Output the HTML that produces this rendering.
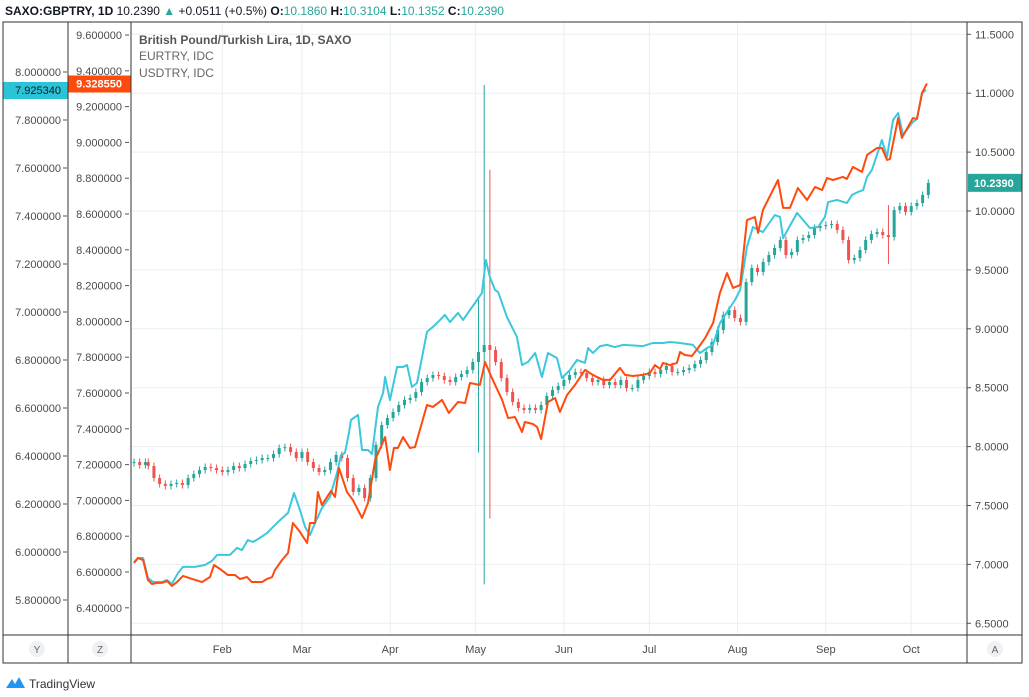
<!DOCTYPE html>
<html><head><meta charset="utf-8"><style>
body{margin:0;background:#fff;width:1029px;height:692px;overflow:hidden;font-family:"Liberation Sans",sans-serif;}
svg text{font-family:"Liberation Sans",sans-serif;}
</style></head><body>
<svg id="c" width="1029" height="692">
<text x="5" y="15" font-size="12" fill="#131722"><tspan font-weight="bold">SAXO:GBPTRY, 1D</tspan> 10.2390 <tspan fill="#26a69a">▲</tspan> +0.0511 (+0.5%) <tspan font-weight="bold">O:</tspan><tspan fill="#26a69a">10.1860</tspan> <tspan font-weight="bold">H:</tspan><tspan fill="#26a69a">10.3104</tspan> <tspan font-weight="bold">L:</tspan><tspan fill="#26a69a">10.1352</tspan> <tspan font-weight="bold">C:</tspan><tspan fill="#26a69a">10.2390</tspan></text>
<g id="grid"></g>
<g id="series"></g>
<g id="axes"></g>
<rect x="3" y="22" width="1019" height="641" fill="none" stroke="#333" stroke-width="1"/>
<line x1="68" y1="22" x2="68" y2="663" stroke="#333"/>
<line x1="131" y1="22" x2="131" y2="663" stroke="#333"/>
<line x1="967" y1="22" x2="967" y2="663" stroke="#333"/>
<line x1="3" y1="635" x2="1022" y2="635" stroke="#333"/>
<text x="139" y="44" font-size="12" font-weight="bold" fill="#555">British Pound/Turkish Lira, 1D, SAXO</text>
<text x="139" y="60" font-size="12" fill="#666">EURTRY, IDC</text>
<text x="139" y="77" font-size="12" fill="#666">USDTRY, IDC</text>
<g id="bottom"></g>
<g><path d="M6 688 L12 679 L15 684 L19 677 L25 688 Z" fill="#2196f3"/><text x="29" y="688" font-size="12" fill="#333">TradingView</text></g>
</svg>
<script>
// GBPTRY candles (day index from Jan 1, close)
const candleDays=[0,2,4,5,7,9,11,13,15,17,19,21,23,25,27,29,31,33,35,37,39,41,43,45,47,49,51,53,55,57,59,61,63,65,67,69,71,73,75,77,79,81,83,85,87,89,91,93,95,97,99,101,103,105,107,109,111,113,115,117,119,121,123,125,127,129,131,133,135,137,139,141,143,145,147,149,151,153,155,157,159,161,163,165,167,169,171,173,175,177,179,181,183,185,187,189,191,193,195,197,199,201,203,205,207,209,211,213,215,217,219,221,223,225,227,229,231,233,235,237,239,241,243,245,247,249,251,253,255,257,259,261,263,265,267,269,271,273,275,277,279];
const candleClose=[7.869,7.844,7.869,7.835,7.733,7.683,7.666,7.683,7.691,7.674,7.733,7.767,7.801,7.827,7.818,7.801,7.784,7.801,7.835,7.818,7.852,7.878,7.886,7.903,7.903,7.937,7.988,7.995,7.954,7.903,7.954,7.869,7.818,7.784,7.801,7.869,7.929,7.903,7.733,7.615,7.649,7.564,7.733,8.014,8.183,8.243,8.294,8.353,8.396,8.413,8.463,8.548,8.582,8.608,8.599,8.565,8.548,8.591,8.616,8.650,8.718,8.803,8.862,8.820,8.718,8.582,8.463,8.379,8.328,8.311,8.328,8.311,8.353,8.430,8.481,8.514,8.565,8.608,8.633,8.625,8.582,8.548,8.565,8.523,8.548,8.523,8.565,8.497,8.497,8.565,8.599,8.633,8.616,8.650,8.684,8.633,8.633,8.650,8.667,8.701,8.735,8.803,8.888,8.990,9.117,9.160,9.092,9.058,9.397,9.516,9.482,9.567,9.626,9.686,9.754,9.626,9.652,9.754,9.771,9.796,9.856,9.873,9.881,9.890,9.839,9.754,9.584,9.601,9.669,9.754,9.805,9.822,9.796,9.779,10.008,10.042,9.992,10.042,10.068,10.136,10.239];
const candleFirstOpen=7.86;
const spikeDays=[121,123,125,265];
const spikeHigh=[9.25,11.07,10.35,10.05];
const spikeLow=[7.95,6.83,7.39,9.55];
// EURTRY line
const eurDays=[0,1.4,3.2,4.9,6.3,8.1,9.8,11.6,13.3,15.1,17.2,20.4,23.9,26.7,28.1,30.2,33,35.5,37.2,39.7,41.4,45,46.7,48.5,49.5,52,54.1,55.8,58.3,60.8,61.8,63.6,64.6,66,69.2,70.6,72,74.8,76.9,80.1,82.2,84.7,88.2,89.9,91.3,92.7,94.5,96.9,98.7,102.9,105,108.2,110.6,113.8,116.3,118,121.5,123.3,125.7,129.3,131.4,133.8,136.3,137.3,140.1,141.6,143,145.4,147.9,149.6,152.1,154.9,158.4,161.2,164.7,167.2,170.7,172.5,175.3,178.8,181.2,183,184.8,185.8,188.3,190.7,191.8,193.5,196,198.1,200.6,203.4,205.8,208.3,210.4,212.9,215.3,218.1,219.2,220.9,226.2,228,230.4,233.2,236.4,239.2,241.7,243.4,245.5,249,250.4,252.5,255.7,257.5,261,262.7,264.5,265.5,268.4,269.7,273.6,275,276.8,278.5];
const eurValues=[6.650,6.678,6.667,6.555,6.533,6.539,6.539,6.550,6.522,6.544,6.578,6.561,6.544,6.572,6.639,6.617,6.583,6.583,6.561,6.572,6.544,6.544,6.561,6.572,6.611,6.667,6.706,6.874,6.824,6.762,6.874,6.874,7.047,6.974,7.053,7.019,7.181,7.047,7.002,6.902,6.986,7.226,7.354,7.170,7.293,7.293,7.354,7.293,7.298,7.533,7.522,7.561,7.488,7.550,7.544,7.656,7.645,7.773,7.684,7.561,7.460,7.466,7.382,7.438,7.427,7.410,7.343,7.550,7.572,7.494,7.589,7.645,7.729,7.701,7.673,7.673,7.740,7.701,7.695,7.701,7.712,7.756,7.734,7.768,7.756,7.768,7.829,7.812,7.807,7.851,7.907,7.991,8.159,8.270,8.187,8.203,8.566,8.583,8.494,8.622,8.790,8.634,8.634,8.745,8.678,8.751,8.734,8.801,8.790,8.807,8.796,8.863,8.835,8.930,8.969,8.969,8.902,8.907,9.136,9.025,9.136,9.131,9.276,9.329];
// USDTRY line
const usdDays=[0,1.4,3.2,4.9,6.7,9.8,11.6,13.3,15.5,17.2,21.4,24.9,27.4,29.2,33.7,36.2,37.9,40,41.8,43.6,46.7,48.8,51.3,54.1,56.2,58.3,60.1,61.8,63.6,66,68.8,71.3,72.7,74.1,75.5,76.2,78.7,80.1,82.2,83.6,85.7,87.5,88.2,89.9,92.4,94.5,95.9,97.6,99.4,101.2,102.9,105,107.5,109.2,111,113.8,115.6,118,120.5,122.2,123.6,125,126.8,127.9,131,134.5,136.3,138.4,140.9,141.6,143.3,145.4,148.6,150.3,153.1,155.6,158.4,159.5,161.2,163.7,166.1,168.9,171.8,178.8,182.3,185.8,188.3,191.8,196.3,198.8,201.3,203.4,205.8,208.3,211.1,212.9,215.3,217.4,219.2,220.9,225.1,226.9,228,232.9,237.4,240.3,242.7,243.8,246.9,250.4,252.2,254.3,256.1,257.5,259.2,262.7,264.5,266.6,268.4,270.1,273.6,275,276.8,278.2];
const usdValues=[5.958,5.975,5.975,5.892,5.875,5.875,5.883,5.867,5.913,5.938,5.938,5.946,5.963,5.988,5.988,6.017,6.008,6.05,6.042,6.054,6.079,6.104,6.133,6.163,6.246,6.175,6.104,6.071,6.121,6.183,6.229,6.329,6.404,6.413,6.496,6.55,6.571,6.425,6.425,6.408,6.604,6.663,6.729,6.633,6.771,6.771,6.779,6.688,6.704,6.813,6.917,6.938,6.967,6.988,6.958,6.996,6.967,7.008,7.05,7.079,7.217,7.146,7.092,7.083,6.979,6.896,6.779,6.792,6.829,6.8,6.729,6.829,6.808,6.725,6.758,6.8,6.788,6.85,6.829,6.858,6.863,6.854,6.863,6.858,6.871,6.871,6.875,6.871,6.863,6.829,6.85,6.863,6.954,7.0,7.05,7.092,7.271,7.354,7.342,7.333,7.404,7.396,7.308,7.413,7.35,7.354,7.396,7.458,7.467,7.454,7.488,7.5,7.508,7.563,7.592,7.717,7.646,7.8,7.829,7.738,7.792,7.804,7.913,7.925];
const monthLabels=["Feb","Mar","Apr","May","Jun","Jul","Aug","Sep","Oct"];
const monthDays=[31,59,90,120,151,181,212,243,273];
const rightTicks=[6.5,7.0,7.5,8.0,8.5,9.0,9.5,10.0,10.5,11.0,11.5];
const usdTicks=[5.8,6.0,6.2,6.4,6.6,6.8,7.0,7.2,7.4,7.6,7.8,8.0];
const eurTicks=[6.4,6.6,6.8,7.0,7.2,7.4,7.6,7.8,8.0,8.2,8.4,8.6,8.8,9.0,9.2,9.4,9.6];

const NS="http://www.w3.org/2000/svg";
const X=d=>134+d*2.847;
const YR=v=>211-(v-10)*117.8;
const YU=v=>72+(8-v)*240;
const YE=v=>35+(9.6-v)*179;
function mk(p,tag,a,txt){const e=document.createElementNS(NS,tag);for(const k in a)e.setAttribute(k,a[k]);if(txt!==undefined)e.textContent=txt;p.appendChild(e);return e;}
const grid=document.getElementById('grid'),ser=document.getElementById('series'),ax=document.getElementById('axes'),bot=document.getElementById('bottom');
rightTicks.forEach(v=>{const y=YR(v);const l=mk(grid,'line',{x1:131,x2:967,y1:y,y2:y,stroke:'#e9eff3'});


mk(ax,'line',{x1:967,x2:971,y1:y,y2:y,stroke:'#555'});
const t=mk(ax,'text',{x:975,y:y+4,'font-size':11,fill:'#4a4a4a'},v.toFixed(4));

});
monthDays.forEach((d,i)=>{const x=X(d);const l=mk(grid,'line',{x1:x,x2:x,y1:22,y2:635,stroke:'#e9eff3'});


const t=mk(bot,'text',{x:x,y:653,'font-size':11,fill:'#4a4a4a','text-anchor':'middle'},monthLabels[i]);

});
usdTicks.forEach(v=>{const y=YU(v);mk(ax,'line',{x1:63,x2:67,y1:y,y2:y,stroke:'#555'});
const t=mk(ax,'text',{x:61,y:y+4,'font-size':11,fill:'#4a4a4a','text-anchor':'end'},v.toFixed(6));

});
eurTicks.forEach(v=>{const y=YE(v);mk(ax,'line',{x1:125,x2:129,y1:y,y2:y,stroke:'#555'});
const t=mk(ax,'text',{x:122,y:y+4,'font-size':11,fill:'#4a4a4a','text-anchor':'end'},v.toFixed(6));

});
// candles
let prev=candleFirstOpen;
candleDays.forEach((d,i)=>{const c=candleClose[i],o=prev;prev=c;const up=c>=o;const col=up?'#26a69a':'#ef5350';
let hi=Math.max(o,c)+0.03,lo=Math.min(o,c)-0.03;const si=spikeDays.indexOf(d);if(si>=0){hi=spikeHigh[si];lo=spikeLow[si];}
const x=X(d);const g=mk(ser,'g',{});


mk(g,'line',{x1:x,x2:x,y1:YR(hi),y2:YR(lo),stroke:col,'stroke-width':1});
const y1=YR(Math.max(o,c)),y2=YR(Math.min(o,c));
mk(g,'rect',{x:x-1.5,y:y1,width:3,height:Math.max(1,y2-y1),fill:col});});
function line(days,vals,Y,col,name){const p=mk(ser,'polyline',{points:days.map((d,i)=>X(d)+','+Y(vals[i])).join(' '),fill:'none',stroke:col,'stroke-width':2,'stroke-linejoin':'round'});

}
line(usdDays,usdValues,YU,'#3cc8dc','usdtry-line');
line(eurDays,eurValues,YE,'#ff4a0d','eurtry-line');
// value labels
const lu=mk(ax,'g',{});
const yu=YU(usdValues[usdValues.length-1]);mk(lu,'rect',{x:3,y:yu-8,width:65,height:17,fill:'#2bc3d8'});mk(lu,'text',{x:61,y:yu+4,'font-size':11,fill:'#1a1a1a','text-anchor':'end'},usdValues[usdValues.length-1].toFixed(6).replace('7.925000','7.925340'));
const le=mk(ax,'g',{});
const ye=YE(eurValues[eurValues.length-1]);mk(le,'rect',{x:68,y:ye-8,width:63,height:17,fill:'#ff4a0d'});mk(le,'text',{x:122,y:ye+4,'font-size':11,fill:'#fff','text-anchor':'end','font-weight':'bold'},'9.328550');
const lg=mk(ax,'g',{});
const yg=YR(candleClose[candleClose.length-1]);mk(lg,'rect',{x:968,y:yg-9,width:54,height:18,fill:'#26a69a'});mk(lg,'text',{x:974,y:yg+4,'font-size':11,fill:'#fff','font-weight':'bold'},candleClose[candleClose.length-1].toFixed(4));
[[37,'Y'],[100,'Z'],[995,'A']].forEach(a=>{const g=mk(bot,'g',{});


mk(g,'circle',{cx:a[0],cy:649,r:8,fill:'#eef0f3'});mk(g,'text',{x:a[0],y:653,'font-size':10,fill:'#666','text-anchor':'middle'},a[1]);});
</script>
</body></html>
